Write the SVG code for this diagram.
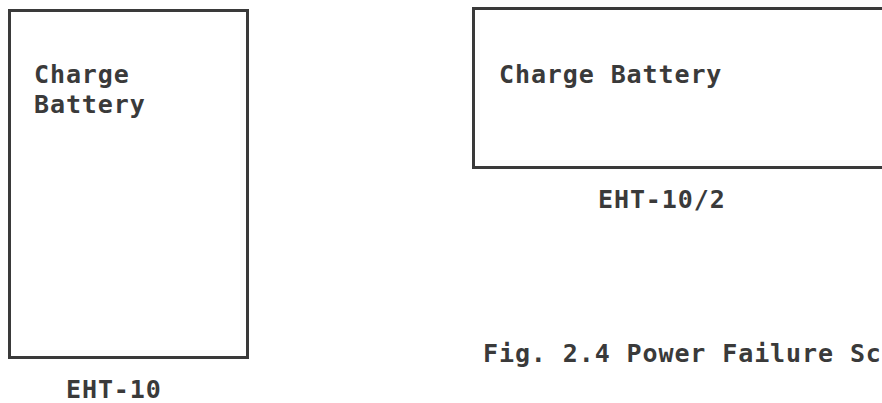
<svg xmlns="http://www.w3.org/2000/svg" width="882" height="403" viewBox="0 0 882 403">
<style>
.box{fill:none;stroke:#3a3a3a;stroke-width:3}
.t{font-family:"DejaVu Sans Mono","Liberation Mono",monospace;font-weight:bold;font-size:25px;fill:#3a3a3a;letter-spacing:0.9px}
</style>
<rect width="882" height="403" fill="#fff"/>
<g id="eht10">
<rect class="box" x="9.5" y="10.5" width="238" height="347"/>
<text class="t" x="34" y="83">Charge</text>
<text class="t" x="34" y="113">Battery</text>
<text class="t" x="66" y="398">EHT-10</text>
</g>
<g id="eht10-2">
<path class="box" d="M884 8.5 H473.5 V167.5 H884"/>
<text class="t" x="499" y="83">Charge Battery</text>
<text class="t" x="598" y="208">EHT-10/2</text>
</g>
<g id="caption">
<text class="t" x="483" y="362">Fig. 2.4 Power Failure Sc</text>
</g>
<g id="connectors"/>
</svg>
